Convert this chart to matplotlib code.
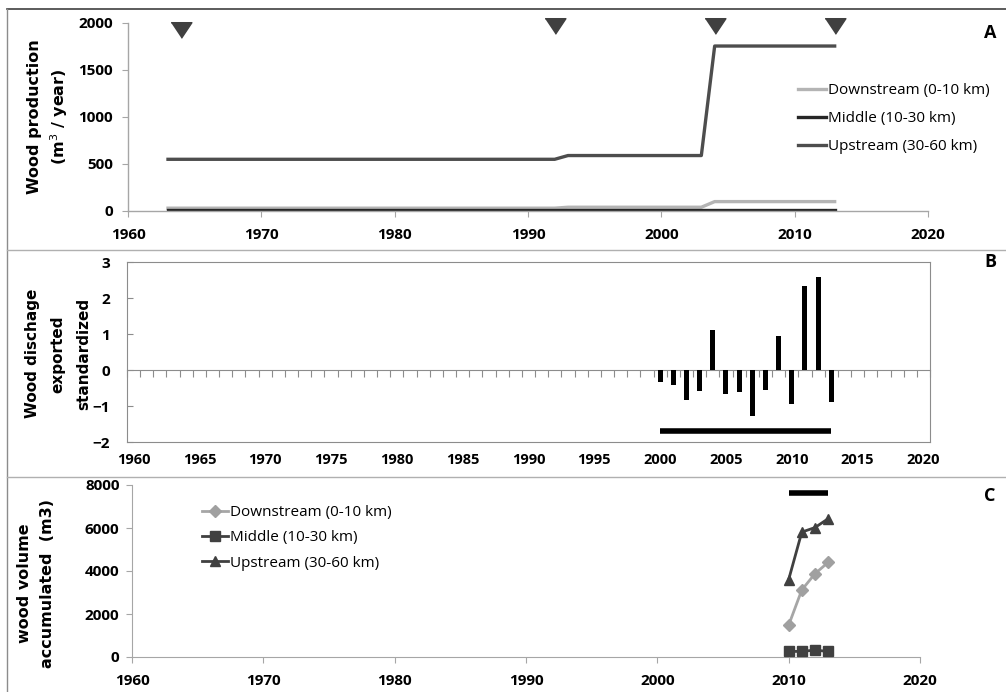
import matplotlib
matplotlib.use("Agg")
import matplotlib.pyplot as plt
from matplotlib.lines import Line2D
from matplotlib import font_manager as fm
import numpy as np

def pick_bold_family(cands):
    for fam in cands:
        try:
            p = fm.findfont(fm.FontProperties(family=fam, weight='bold'),
                            fallback_to_default=False)
            if 'bold' in p.lower():
                return fam
        except Exception:
            pass
    return 'DejaVu Sans'

FAM = pick_bold_family(['Open Sans', 'Lato', 'Noto Sans', 'Roboto', 'Liberation Sans'])
plt.rcParams['font.family'] = [FAM, 'DejaVu Sans']

# ---------------- Data ----------------
# Panel A: wood production (m3/year)
a_up_years = [1963, 1992, 1993, 2003, 2004, 2013]
a_up_vals = [550, 550, 590, 590, 1755, 1755]
a_down_years = [1963, 1992, 1993, 2003, 2004, 2013]
a_down_vals = [30, 30, 40, 40, 100, 100]
a_mid_years = [1963, 2013]
a_mid_vals = [8, 8]
event_years = [1964, 1992, 2004, 2013]
event_y = [1930, 1965, 1965, 1965]

# Panel B: standardized exported wood discharge
b_years = list(range(2000, 2014))
b_vals = [-0.33, -0.43, -0.82, -0.59, 1.10, -0.66, -0.61, -1.27, -0.55, 0.95,
          -0.94, 2.33, 2.59, -0.89]
b_period = [2000, 2013]
b_period_y = -1.7

# Panel C: accumulated wood volume (m3)
c_years = [2010, 2011, 2012, 2013]
c_down = [1480, 3120, 3870, 4400]
c_mid = [260, 260, 320, 260]
c_up = [3600, 5810, 6020, 6430]
c_period = [2010, 2013]
c_period_y = 7650

legend_labels = ["Downstream (0-10 km)", "Middle (10-30 km)", "Upstream (30-60 km)"]

# ---------------- Figure ----------------
W, H = 1006, 692
fig = plt.figure(figsize=(W / 100, H / 100), dpi=100)

def rect(l, r, t, b):
    return [l / W, 1 - b / H, (r - l) / W, (b - t) / H]

spine_gray = '#a6a6a6'
label_font = dict(fontsize=11.5, fontweight='bold', family='DejaVu Sans')

# ---------- Panel A ----------
axA = fig.add_axes(rect(128, 928, 23, 211))
col_light, col_middle, col_dark = '#b4b4b4', '#262626', '#4d4d4d'
axA.plot(a_down_years, a_down_vals, color=col_light, lw=2.4, label=legend_labels[0])
axA.plot(a_mid_years, a_mid_vals, color=col_middle, lw=2.4, label=legend_labels[1])
axA.plot(a_up_years, a_up_vals, color=col_dark, lw=2.4, label=legend_labels[2])
tri = [(-1, 0.75), (1, 0.75), (0, -0.75)]
axA.plot(event_years, event_y, linestyle='none', marker=tri, ms=15,
         color='#404040', clip_on=False)
axA.set_xlim(1960, 2020)
axA.set_ylim(0, 2000)
axA.set_xticks(np.arange(1960, 2021, 10))
axA.set_yticks(np.arange(0, 2001, 500))
for s in ['top', 'right']:
    axA.spines[s].set_visible(False)
for s in ['left', 'bottom']:
    axA.spines[s].set_color(spine_gray)
    axA.spines[s].set_linewidth(1.0)
axA.tick_params(axis='x', direction='out', length=4, pad=8, color=spine_gray, labelsize=11)
axA.tick_params(axis='y', direction='out', length=4, pad=7, color=spine_gray, labelsize=11)
for lab in axA.get_xticklabels() + axA.get_yticklabels():
    lab.set_fontweight('bold')
axA.set_ylabel("Wood production\n(m$^3$ / year)", linespacing=1.4, **label_font)
axA.yaxis.set_label_coords(-0.072, 0.5)
legA = axA.legend(loc='upper left', bbox_to_anchor=(798 / W, 1 - 83 / H),
                  bbox_transform=fig.transFigure, frameon=False, fontsize=11,
                  handlelength=1.8, handletextpad=0.15, labelspacing=0.85,
                  borderaxespad=0, borderpad=0)

# ---------- Panel B ----------
axB = fig.add_axes(rect(127, 930, 262, 442))
axB.bar(b_years, b_vals, width=0.38, color='black', zorder=3)
axB.plot(b_period, [b_period_y, b_period_y], color='black', lw=4, solid_capstyle='butt')
axB.set_xlim(1959.5, 2020.5)
axB.set_ylim(-2, 3)
axB.set_yticks(np.arange(-2, 4, 1))
for s in ['top', 'right', 'left']:
    axB.spines[s].set_color('#8c8c8c')
axB.spines['bottom'].set_position(('data', 0))
axB.spines['bottom'].set_color('#8c8c8c')
axB.spines['bottom'].set_zorder(2)
axB.set_xticks(np.arange(1959.5, 2021, 1))
axB.tick_params(axis='x', direction='out', length=5, color='#8c8c8c', labelbottom=False)
axB.tick_params(axis='y', direction='in', length=4, pad=12, color='#8c8c8c', labelsize=11)
for lab in axB.get_yticklabels():
    lab.set_fontweight('bold')
secB = axB.secondary_xaxis(0.0)
secB.set_xticks(np.arange(1960, 2021, 5))
secB.tick_params(axis='x', length=0, pad=8, labelsize=10.5)
secB.spines['bottom'].set_color('#8c8c8c')
for lab in secB.get_xticklabels():
    lab.set_fontweight('bold')
axB.set_ylabel("Wood dischage\nexported\nstandardized", linespacing=1.85,
               fontsize=11, fontweight='bold', family='DejaVu Sans')
axB.yaxis.set_label_coords(-0.045, 0.49)

# ---------- Panel C ----------
axC = fig.add_axes(rect(132, 920, 485, 657))
axC.plot(c_years, c_down, color='#a6a6a6', lw=2, marker='D', ms=6,
         mfc='#a0a0a0', mec='#a0a0a0', label=legend_labels[0], clip_on=False, zorder=3)
axC.plot(c_years, c_mid, color='#404040', lw=2, marker='s', ms=7.5,
         mfc='#404040', mec='#404040', label=legend_labels[1], clip_on=False, zorder=3)
axC.plot(c_years, c_up, color='#404040', lw=2, marker='^', ms=7,
         mfc='#404040', mec='#404040', label=legend_labels[2], clip_on=False, zorder=3)
axC.plot(c_period, [c_period_y, c_period_y], color='black', lw=4, solid_capstyle='butt')
axC.set_xlim(1960, 2020)
axC.set_ylim(0, 8000)
axC.set_xticks(np.arange(1960, 2021, 10))
axC.set_yticks(np.arange(0, 8001, 2000))
for s in ['top', 'right']:
    axC.spines[s].set_visible(False)
for s in ['left', 'bottom']:
    axC.spines[s].set_color(spine_gray)
axC.tick_params(axis='x', direction='out', length=4, pad=8, color=spine_gray, labelsize=11)
axC.tick_params(axis='y', direction='out', length=4, pad=5, color=spine_gray, labelsize=11)
for lab in axC.get_xticklabels() + axC.get_yticklabels():
    lab.set_fontweight('bold')
axC.set_ylabel("wood volume\naccumulated  (m3)", linespacing=1.65, **label_font)
axC.yaxis.set_label_coords(-0.098, 0.43)
legC = axC.legend(loc='upper left', bbox_to_anchor=(202 / W, 1 - 505 / H),
                  bbox_transform=fig.transFigure, frameon=False, fontsize=11,
                  handlelength=1.7, handletextpad=0.15, labelspacing=0.68,
                  borderaxespad=0, borderpad=0)

# ---------- Frame lines & panel letters ----------
def fline(x0, y0, x1, y1, color, lw=1.0):
    fig.add_artist(Line2D([x0 / W, x1 / W], [1 - y0 / H, 1 - y1 / H],
                          transform=fig.transFigure, color=color, lw=lw))

fline(7, 9, W, 9, '#404040', 1.2)
fline(7, 9, 7, H, '#8c8c8c', 1.0)
fline(7, 250, W, 250, '#b0b0b0', 1.0)
fline(7, 477, W, 477, '#b0b0b0', 1.0)

for letter, y in [("A", 33), ("B", 262), ("C", 496)]:
    fig.text(990 / W, 1 - y / H, letter, ha='center', va='center',
             fontsize=13, fontweight='bold')

fig.savefig("out.png", dpi=100)
